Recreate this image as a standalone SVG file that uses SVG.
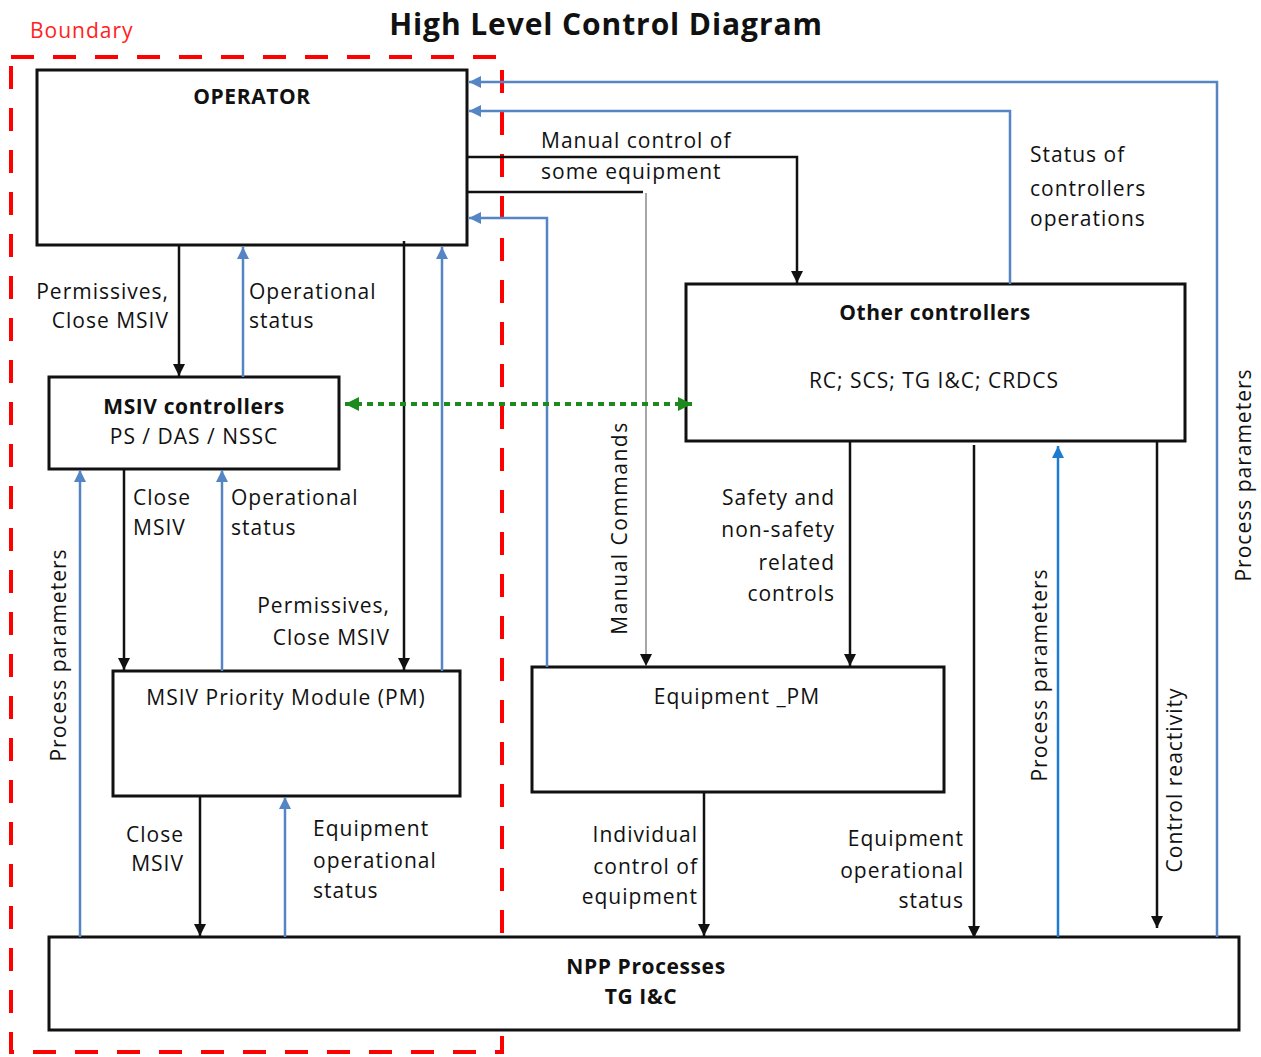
<svg xmlns="http://www.w3.org/2000/svg" width="1261" height="1057" viewBox="0 0 1261 1057">
  <style>
    .box { fill: #fff; stroke: #111; stroke-width: 3; }
    .lbl { font-family: "Open Sans", "DejaVu Sans", sans-serif; font-size: 21px; letter-spacing: 1px; fill: #111; }
    .bold { font-weight: bold; letter-spacing: 0.6px; }
    .mid { text-anchor: middle; }
    .end { text-anchor: end; }
    .blk { fill: none; stroke: #111; stroke-width: 2.5; }
    .blu { fill: none; stroke: #5585c2; stroke-width: 2.5; }
    .blu2 { fill: none; stroke: #1e7cd0; stroke-width: 2.5; }
    .thin { fill: none; stroke: #777; stroke-width: 1.3; }
    .grn { fill: none; stroke: #1d8a1d; stroke-width: 4; stroke-dasharray: 6 5; }
  </style>
  <defs>
    <marker id="aBlk" markerUnits="userSpaceOnUse" markerWidth="13" markerHeight="12" refX="12" refY="6" orient="auto">
      <path d="M0,0 L12,6 L0,12 z" fill="#111"/>
    </marker>
    <marker id="aBlu" markerUnits="userSpaceOnUse" markerWidth="13" markerHeight="12" refX="12" refY="6" orient="auto">
      <path d="M0,0 L12,6 L0,12 z" fill="#5585c2"/>
    </marker>
    <marker id="aBlu2" markerUnits="userSpaceOnUse" markerWidth="13" markerHeight="12" refX="12" refY="6" orient="auto">
      <path d="M0,0 L12,6 L0,12 z" fill="#1e7cd0"/>
    </marker>
    <marker id="aGrn" markerUnits="userSpaceOnUse" markerWidth="15" markerHeight="14" refX="14" refY="7" orient="auto-start-reverse">
      <path d="M0,0 L14,7 L0,14 z" fill="#1d8a1d"/>
    </marker>
  </defs>

  <rect width="1261" height="1057" fill="#fff"/>

  <!-- title and boundary -->
  <text x="606" y="35" class="lbl bold mid" style="font-size:30px;letter-spacing:0.9px">High Level Control Diagram</text>
  <text x="30" y="38" class="lbl" style="fill:#f22">Boundary</text>
  <rect x="11" y="57" width="491" height="995" fill="none" stroke="#f00" stroke-width="4" stroke-dasharray="23 19"/>

  <!-- nodes -->
  <g id="operator">
    <rect class="box" x="37" y="70" width="430" height="175"/>
    <text x="252" y="104" class="lbl bold mid">OPERATOR</text>
  </g>
  <g id="msiv-controllers">
    <rect class="box" x="49" y="377" width="290" height="92"/>
    <text x="194" y="414" class="lbl bold mid">MSIV controllers</text>
    <text x="194" y="444" class="lbl mid">PS / DAS / NSSC</text>
  </g>
  <g id="msiv-pm">
    <rect class="box" x="113" y="671" width="347" height="125"/>
    <text x="286" y="705" class="lbl mid">MSIV Priority Module (PM)</text>
  </g>
  <g id="other-controllers">
    <rect class="box" x="686" y="284" width="499" height="157"/>
    <text x="935" y="320" class="lbl bold mid">Other controllers</text>
    <text x="934" y="388" class="lbl mid">RC; SCS; TG I&amp;C; CRDCS</text>
  </g>
  <g id="equipment-pm">
    <rect class="box" x="532" y="667" width="412" height="125"/>
    <text x="737" y="704" class="lbl mid">Equipment _PM</text>
  </g>
  <g id="npp-processes">
    <rect class="box" x="49" y="937" width="1190" height="93"/>
    <text x="646" y="974" class="lbl bold mid">NPP Processes</text>
    <text x="641" y="1004" class="lbl bold mid">TG I&amp;C</text>
  </g>

  <!-- connectors -->
  <g id="connectors">
    <path class="blk" d="M179,246 V376" marker-end="url(#aBlk)"/>
    <path class="blu" d="M243,377 V247" marker-end="url(#aBlu)"/>
    <path class="blk" d="M404,241 V670" marker-end="url(#aBlk)"/>
    <path class="blu" d="M442,671 V247" marker-end="url(#aBlu)"/>
    <path class="blk" d="M124,470 V670" marker-end="url(#aBlk)"/>
    <path class="blu" d="M222,671 V470" marker-end="url(#aBlu)"/>
    <path class="blu" d="M80,937 V470" marker-end="url(#aBlu)"/>
    <path class="blk" d="M200,797 V936" marker-end="url(#aBlk)"/>
    <path class="blu" d="M285,937 V797" marker-end="url(#aBlu)"/>
    <path class="blu" d="M1217,937 V82 H469" marker-end="url(#aBlu)"/>
    <path class="blu" d="M1010,284 V111 H469" marker-end="url(#aBlu)"/>
    <path class="blu" d="M547,667 V218 H469" marker-end="url(#aBlu)"/>
    <path class="blk" d="M468,157 H797 V283" marker-end="url(#aBlk)"/>
    <path class="blk" d="M468,192 H643"/>
    <path class="thin" d="M646,193 V666" marker-end="url(#aBlk)"/>
    <path class="grn" d="M345,404 H692" marker-start="url(#aGrn)" marker-end="url(#aGrn)"/>
    <path class="blk" d="M850,442 V666" marker-end="url(#aBlk)"/>
    <path class="blk" d="M704,793 V936" marker-end="url(#aBlk)"/>
    <path class="blk" d="M974,445 V938" marker-end="url(#aBlk)"/>
    <path class="blu2" d="M1058,937 V446" marker-end="url(#aBlu2)"/>
    <path class="blk" d="M1157,442 V928" marker-end="url(#aBlk)"/>
  </g>

  <!-- connector labels -->
  <g id="labels">
    <text x="169" y="299" class="lbl end">Permissives,</text>
    <text x="169" y="328" class="lbl end">Close MSIV</text>
    <text x="249" y="299" class="lbl">Operational</text>
    <text x="249" y="328" class="lbl">status</text>
    <text x="541" y="148" class="lbl">Manual control of</text>
    <text x="541" y="179" class="lbl">some equipment</text>
    <text x="1030" y="162" class="lbl">Status of</text>
    <text x="1030" y="196" class="lbl">controllers</text>
    <text x="1030" y="226" class="lbl">operations</text>
    <text x="133" y="505" class="lbl">Close</text>
    <text x="133" y="535" class="lbl">MSIV</text>
    <text x="231" y="505" class="lbl">Operational</text>
    <text x="231" y="535" class="lbl">status</text>
    <text x="390" y="613" class="lbl end">Permissives,</text>
    <text x="390" y="645" class="lbl end">Close MSIV</text>
    <text x="184" y="842" class="lbl end">Close</text>
    <text x="184" y="871" class="lbl end">MSIV</text>
    <text x="313" y="836" class="lbl">Equipment</text>
    <text x="313" y="868" class="lbl">operational</text>
    <text x="313" y="898" class="lbl">status</text>
    <text x="835" y="505" class="lbl end">Safety and</text>
    <text x="835" y="537" class="lbl end">non-safety</text>
    <text x="835" y="570" class="lbl end">related</text>
    <text x="835" y="601" class="lbl end">controls</text>
    <text x="698" y="842" class="lbl end">Individual</text>
    <text x="698" y="874" class="lbl end">control of</text>
    <text x="698" y="904" class="lbl end">equipment</text>
    <text x="964" y="846" class="lbl end">Equipment</text>
    <text x="964" y="878" class="lbl end">operational</text>
    <text x="964" y="908" class="lbl end">status</text>
    <text transform="translate(66,655) rotate(-90)" class="lbl mid">Process parameters</text>
    <text transform="translate(627,528) rotate(-90)" class="lbl mid" style="letter-spacing:1.5px">Manual Commands</text>
    <text transform="translate(1047,675) rotate(-90)" class="lbl mid">Process parameters</text>
    <text transform="translate(1182,780) rotate(-90)" class="lbl mid">Control reactivity</text>
    <text transform="translate(1251,475) rotate(-90)" class="lbl mid">Process parameters</text>
  </g>
</svg>
